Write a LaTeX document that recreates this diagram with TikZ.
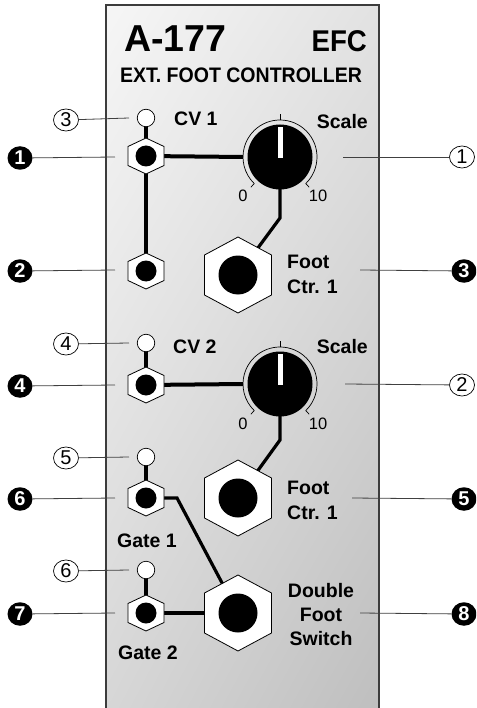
\documentclass[tikz,border=0pt]{standalone}
\usepackage{fontspec}
\setmainfont{Liberation Sans}
\usetikzlibrary{calc,shadings,shapes.geometric}
\definecolor{panelborder}{HTML}{3C3C3C}
\definecolor{leadcol}{HTML}{404040}
\definecolor{pUL}{HTML}{F6F6F6}
\definecolor{pUR}{HTML}{E2E2E2}
\definecolor{pLL}{HTML}{D6D6D6}
\definecolor{pLR}{HTML}{BEBEBE}
\begin{document}
\begin{tikzpicture}[x=1pt,y=-1pt,
  wire/.style={line width=4pt,line cap=butt},
  knobwire/.style={line width=3.2pt,line join=miter},
  lead/.style={line width=0.8pt,draw=leadcol},
  lbl/.style={font=\fontsize{19.5}{20}\selectfont\bfseries,inner sep=0pt},
  scl/.style={font=\fontsize{16.5}{17}\selectfont,inner sep=0pt,anchor=base},
  wnum/.style={ellipse,draw=black,line width=0.7pt,fill=white,minimum width=25pt,minimum height=22pt,inner sep=0pt,font=\fontsize{20}{20}\selectfont},
  bnum/.style={ellipse,fill=black,text=white,minimum width=25pt,minimum height=23.5pt,inner sep=0pt,font=\fontsize{20}{20}\selectfont\bfseries},
  ledstyle/.style={circle,draw=black,line width=0.7pt,fill=white,minimum size=17.5pt,inner sep=0pt},
  smalljack/.pic={
    \filldraw[fill=white,draw=black,line width=0.8pt] (0,-18) -- (18,-9.5) -- (18,9.5) -- (0,18) -- (-18,9.5) -- (-18,-9.5) -- cycle;
    \fill[black] (0,0) circle[radius=10.5pt];
  },
  bigjack/.pic={
    \filldraw[fill=white,draw=black,line width=0.8pt] (0,-38) -- (33.5,-20) -- (33.5,20) -- (0,38) -- (-33.5,20) -- (-33.5,-20) -- cycle;
    \fill[black] (0,0) circle[radius=19.5pt];
  },
  knob/.pic={
    \draw[black,line width=0.7pt] (-46:37pt) arc[start angle=-46,end angle=226,radius=37pt];
    \draw[black,line width=0.7pt] (90:37pt) -- (90:43pt);
    \draw[black,line width=0.7pt] (226:37pt) -- (226:42pt);
    \draw[black,line width=0.7pt] (-46:37pt) -- (-46:42pt);
    \fill[black] (0,0) circle[radius=32.5pt];
    \fill[white] (-2.5pt,-1pt) rectangle (2.5pt,30pt);
  }
]
\useasboundingbox (0,0) rectangle (476,708);
\clip (0,0) rectangle (476,708);
\fill[white] (0,0) rectangle (476,708);

% panel
\shade[upper left=pUL,upper right=pUR,lower left=pLL,lower right=pLR]
  (106,5) rectangle (379,720);
\draw[panelborder,line width=1.5pt] (106,720) -- (106,5) -- (379,5) -- (379,720);

% titles
\node[anchor=base west,inner sep=0pt,font=\fontsize{37.5}{38}\selectfont\bfseries] (title) at (124,52) {A-177};
\node[anchor=base east,inner sep=0pt,font=\fontsize{30}{30}\selectfont\bfseries] (efc) at (367,52) {\scalebox{0.92}[1]{EFC}};
\node[anchor=base,inner sep=0pt,font=\fontsize{21}{21}\selectfont\bfseries] (ext) at (241,83) {\scalebox{0.93}[1]{EXT. FOOT CONTROLLER}};

% element positions
\coordinate (led1) at (146,118);
\coordinate (j1) at (146,156);
\coordinate (j2) at (146,271);
\coordinate (k1) at (280,157);
\coordinate (b1) at (238,275);
\coordinate (led2) at (146,343);
\coordinate (j4) at (146,385);
\coordinate (k2) at (280,384);
\coordinate (b2) at (238,498);
\coordinate (led3) at (146,457);
\coordinate (j6) at (146,498);
\coordinate (led4) at (146,570);
\coordinate (j7) at (146,613);
\coordinate (b3) at (238,613);

% wires (drawn under the parts)
\draw[wire] (led1) -- (j1);
\draw[wire] (j1) -- (j2);
\draw[wire] (j1) -- ([xshift=-37pt]k1);
\draw[knobwire] ([yshift=-30pt]k1) -- ([yshift=-61pt]k1) -- (b1);
\draw[wire] (led2) -- (j4);
\draw[wire] (j4) -- ([xshift=-37pt]k2);
\draw[knobwire] ([yshift=-30pt]k2) -- ([yshift=-56pt]k2) -- (b2);
\draw[wire] (led3) -- (j6);
\draw[knobwire] (j6) -- ([xshift=31pt]j6) -- (b3);
\draw[wire] (led4) -- (j7);
\draw[wire] (j7) -- (b3);

% parts
\node[ledstyle] (L1) at (led1) {};
\node[ledstyle] (L2) at (led2) {};
\node[ledstyle] (L3) at (led3) {};
\node[ledstyle] (L4) at (led4) {};
\pic at (j1) {smalljack};
\pic at (j2) {smalljack};
\pic at (j4) {smalljack};
\pic at (j6) {smalljack};
\pic at (j7) {smalljack};
\pic at (b1) {bigjack};
\pic at (b2) {bigjack};
\pic at (b3) {bigjack};
\pic at (k1) {knob};
\pic at (k2) {knob};

% panel labels
\node[lbl,anchor=base west] (cv1) at (174,126) {CV 1};
\node[lbl,anchor=base east] (scale1) at (368,129) {Scale};
\node[scl] (zero1) at (243,202) {0};
\node[scl] (ten1) at (318,202) {10};
\node[lbl,anchor=base west] (foot1) at (287,269) {Foot};
\node[lbl,anchor=base west] (ctr1) at (287,293) {Ctr. 1};
\node[lbl,anchor=base west] (cv2) at (173,353) {CV 2};
\node[lbl,anchor=base east] (scale2) at (368,353) {Scale};
\node[scl] (zero2) at (243,429) {0};
\node[scl] (ten2) at (318,429) {10};
\node[lbl,anchor=base west] (foot2) at (287,494) {Foot};
\node[lbl,anchor=base west] (ctr2) at (287,519) {Ctr. 1};
\node[lbl,anchor=base] (gate1) at (147,547) {Gate 1};
\node[lbl,anchor=base] (dbl) at (321,597) {Double};
\node[lbl,anchor=base] (foot3) at (321,621) {Foot};
\node[lbl,anchor=base] (switch) at (321,645) {Switch};
\node[lbl,anchor=base] (gate2) at (148,659) {Gate 2};

% callout numbers
\node[wnum] (n3) at (66,120) {3};
\node[wnum] (n4) at (66,344) {4};
\node[wnum] (n5) at (66,458) {5};
\node[wnum] (n6) at (66,571) {6};
\node[wnum] (n1) at (462,157) {1};
\node[wnum] (n2) at (462,385) {2};
\node[bnum] (m1) at (20,158) {1};
\node[bnum] (m2) at (20,271) {2};
\node[bnum] (m4) at (20,386) {4};
\node[bnum] (m6) at (20,499) {6};
\node[bnum] (m7) at (20,614) {7};
\node[bnum] (m3) at (464,271) {3};
\node[bnum] (m5) at (464,499) {5};
\node[bnum] (m8) at (464,614) {8};

% lead end points
\coordinate (e3) at (129,118);
\coordinate (e4) at (129,343);
\coordinate (e5) at (129,457);
\coordinate (e6) at (129,570);
\coordinate (e1) at (343,157);
\coordinate (e2) at (345,384);
\coordinate (f1) at (115,157);
\coordinate (f2) at (115,270);
\coordinate (f4) at (115,385);
\coordinate (f6) at (115,498);
\coordinate (f7) at (115,613);
\coordinate (f3) at (360,270);
\coordinate (f5) at (352,498);
\coordinate (f8) at (360,613);

\draw[lead] (n3) -- (e3);
\draw[lead] (n4) -- (e4);
\draw[lead] (n5) -- (e5);
\draw[lead] (n6) -- (e6);
\draw[lead] (n1) -- (e1);
\draw[lead] (n2) -- (e2);
\draw[lead] (m1) -- (f1);
\draw[lead] (m2) -- (f2);
\draw[lead] (m4) -- (f4);
\draw[lead] (m6) -- (f6);
\draw[lead] (m7) -- (f7);
\draw[lead] (m3) -- (f3);
\draw[lead] (m5) -- (f5);
\draw[lead] (m8) -- (f8);
\end{tikzpicture}
\end{document}
